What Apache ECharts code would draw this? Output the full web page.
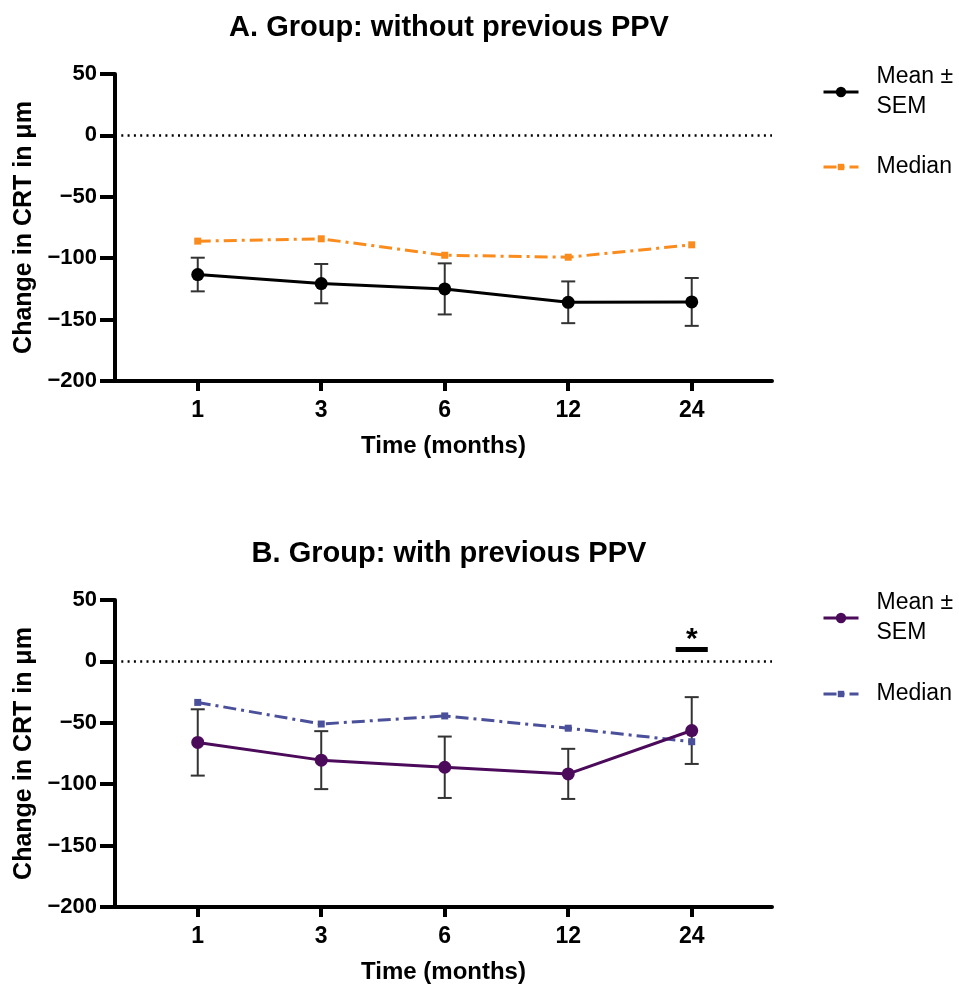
<!DOCTYPE html>
<html>
<head>
<meta charset="utf-8">
<script src="https://cdn.jsdelivr.net/npm/echarts@6/dist/echarts.min.js"></script>
<style>
  html, body { margin: 0; padding: 0; background: #fff; }
  #chart { width: 959px; height: 985px; }
</style>
</head>
<body>
<div id="chart"></div>
<script>
// ---- data ----
const categories = ['1', '3', '6', '12', '24'];
const meanA   = [-113.3, -120.7, -125.0, -135.9, -135.6];
const semA    = [13.7, 16.0, 20.8, 17.0, 19.5];
const medianA = [-86.1, -84.2, -97.6, -99.2, -89.1];
const meanB   = [-66.0, -80.4, -86.2, -91.6, -56.3];
const semB    = [27.0, 23.6, 25.0, 20.4, 27.2];
const medianB = [-33.4, -51.0, -44.4, -54.4, -65.4];
const yTicks  = [-200, -150, -100, -50, 0, 50];
const sigBarB = { from: 3.87, to: 4.13, y: 10.3, text: '*' };

// ---- styling ----
const FONT = '"Liberation Sans", Arial, Helvetica, sans-serif';
const C_MEAN_A = '#000000';
const C_MED_A = '#FA8C1E';
const C_MEAN_B = '#4C0A5A';
const C_MED_B = '#4B509B';
const ERR = '#333333';

const chart = echarts.init(document.getElementById('chart'), null, { renderer: 'canvas' });

function xAxisCfg(gridIndex) {
  return {
    type: 'value', gridIndex: gridIndex,
    min: -0.67, max: 4.65,
    axisLine: { show: true, onZero: false, lineStyle: { color: '#000', width: 4 } },
    axisTick: { show: true, customValues: [0, 1, 2, 3, 4], length: 10, lineStyle: { color: '#000', width: 4 } },
    axisLabel: {
      customValues: [0, 1, 2, 3, 4],
      formatter: v => categories[Math.round(v)],
      margin: 18, fontFamily: FONT, fontWeight: 'bold', fontSize: 23, color: '#000'
    },
    splitLine: { show: false },
    name: 'Time (months)', nameLocation: 'middle', nameGap: 53,
    nameTextStyle: { fontFamily: FONT, fontWeight: 'bold', fontSize: 24, color: '#000' }
  };
}
function yAxisCfg(gridIndex) {
  return {
    type: 'value', gridIndex: gridIndex,
    min: yTicks[0], max: yTicks[yTicks.length - 1], interval: 50,
    axisLine: { show: true, onZero: false, lineStyle: { color: '#000', width: 4 } },
    axisTick: { show: true, length: 15, lineStyle: { color: '#000', width: 4 } },
    axisLabel: {
      formatter: v => String(v).replace('-', '\u2212'),
      margin: 18, fontFamily: FONT, fontWeight: 'bold', fontSize: 22, color: '#000'
    },
    splitLine: { show: false },
    name: 'Change in CRT in \u03bcm', nameLocation: 'middle', nameGap: 70, nameRotate: 90,
    nameTextStyle: { fontFamily: FONT, fontWeight: 'bold', fontSize: 25, color: '#000' }
  };
}

function errSeries(mean, sem, idx) {
  return {
    type: 'custom', xAxisIndex: idx, yAxisIndex: idx, z: 1,
    data: mean.map((m, i) => [i, m - sem[i], m + sem[i]]),
    encode: { x: 0, y: [1, 2] },
    silent: true,
    renderItem: function (params, api) {
      const x = api.value(0);
      const lo = api.coord([x, api.value(1)]);
      const hi = api.coord([x, api.value(2)]);
      const w = 7;
      const st = { stroke: ERR, lineWidth: 2 };
      return {
        type: 'group',
        children: [
          { type: 'line', shape: { x1: hi[0], y1: hi[1], x2: lo[0], y2: lo[1] }, style: st },
          { type: 'line', shape: { x1: hi[0] - w, y1: hi[1], x2: hi[0] + w, y2: hi[1] }, style: st },
          { type: 'line', shape: { x1: lo[0] - w, y1: lo[1], x2: lo[0] + w, y2: lo[1] }, style: st }
        ]
      };
    }
  };
}

const zeroLine = {
  silent: true, symbol: ['none', 'none'],
  label: { show: false },
  lineStyle: { color: '#000', type: [2, 4.3], width: 2.5 },
  data: [{ yAxis: 0 }]
};

function meanSeries(name, data, color, idx, markLine) {
  return {
    name: name, type: 'line', xAxisIndex: idx, yAxisIndex: idx, z: 4,
    data: data.map((v, i) => [i, v]),
    symbol: 'circle', symbolSize: 13,
    itemStyle: { color: color },
    lineStyle: { color: color, width: 3 },
    markLine: markLine
  };
}
function medianSeries(name, data, color, idx, markLine) {
  const s = {
    name: name, type: 'line', xAxisIndex: idx, yAxisIndex: idx, z: 3,
    data: data.map((v, i) => [i, v]),
    symbol: 'rect', symbolSize: 7,
    itemStyle: { color: color },
    lineStyle: { color: color, width: 3, type: [13, 5, 3, 5] }
  };
  if (markLine) s.markLine = markLine;
  return s;
}

const sigMark = {
  silent: true, symbol: ['none', 'none'],
  lineStyle: { color: '#000', type: 'solid', width: 5 },
  label: {
    show: true, position: 'insideMiddleTop', formatter: sigBarB.text, distance: 0, offset: [0, 6],
    fontFamily: FONT, fontWeight: 'bold', fontSize: 30, color: '#000'
  },
  data: [[{ coord: [sigBarB.from, sigBarB.y] }, { coord: [sigBarB.to, sigBarB.y] }]]
};

function legendCfg(name, top, isMean) {
  return {
    data: [name], orient: 'vertical', left: 817, top: top,
    itemWidth: 35, itemHeight: isMean ? 13 : 8, selectedMode: false,
    lineStyle: { width: 3 },
    formatter: isMean ? 'Mean \u00b1\nSEM' : 'Median',
    textStyle: {
      fontFamily: FONT, fontSize: 23, color: '#000', lineHeight: 30,
      padding: isMean ? [30, 0, 0, 13] : [0, 0, 0, 13]
    }
  };
}

const option = {
  animation: false,
  backgroundColor: '#fff',
  title: [
    { text: 'A. Group: without previous PPV', left: 444, top: 8, textAlign: 'center',
      textStyle: { fontFamily: FONT, fontWeight: 'bold', fontSize: 29, color: '#000' } },
    { text: 'B. Group: with previous PPV', left: 444, top: 534, textAlign: 'center',
      textStyle: { fontFamily: FONT, fontWeight: 'bold', fontSize: 29, color: '#000' } }
  ],
  legend: [
    legendCfg('Mean \u00b1 SEM A', 42, true),
    legendCfg('Median A', 147, false),
    legendCfg('Mean \u00b1 SEM B', 568, true),
    legendCfg('Median B', 674, false)
  ],
  grid: [
    { left: 115, top: 74, width: 657, height: 307 },
    { left: 115, top: 600, width: 657, height: 307 }
  ],
  xAxis: [xAxisCfg(0), xAxisCfg(1)],
  yAxis: [yAxisCfg(0), yAxisCfg(1)],
  series: [
    errSeries(meanA, semA, 0),
    medianSeries('Median A', medianA, C_MED_A, 0),
    meanSeries('Mean \u00b1 SEM A', meanA, C_MEAN_A, 0, zeroLine),
    errSeries(meanB, semB, 1),
    medianSeries('Median B', medianB, C_MED_B, 1, sigMark),
    meanSeries('Mean \u00b1 SEM B', meanB, C_MEAN_B, 1, zeroLine)
  ]
};
chart.setOption(option);
</script>
</body>
</html>
